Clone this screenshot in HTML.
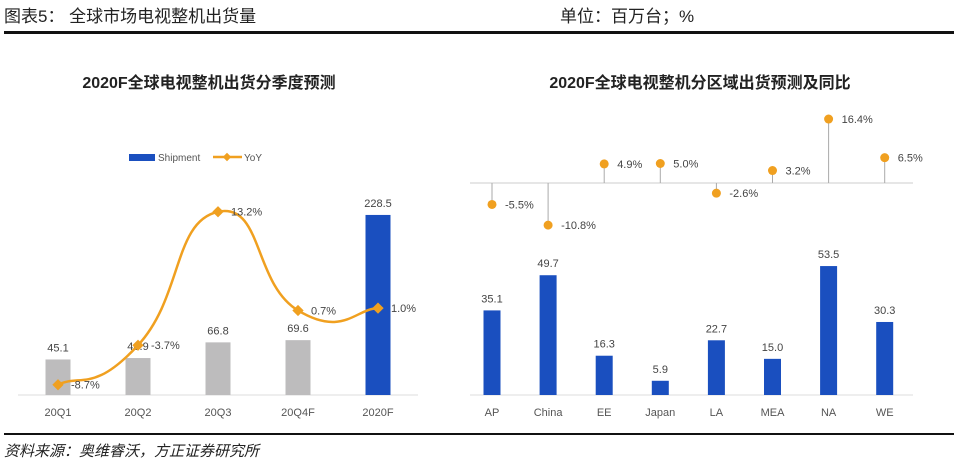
<!DOCTYPE html>
<html><head><meta charset="utf-8"><style>
body{margin:0;width:958px;height:466px;background:#fff;overflow:hidden;font-family:"Liberation Sans","Noto Sans CJK SC",sans-serif}
svg text{font-family:"Liberation Sans","Noto Sans CJK SC",sans-serif}
</style></head><body>
<svg width="958" height="466">
<text x="4" y="22" font-size="17" fill="#222" font-family="'Noto Serif CJK SC',serif">图表5：  全球市场电视整机出货量</text>
<text x="560" y="22" font-size="17" fill="#222" font-family="'Noto Serif CJK SC',serif">单位：百万台；%</text>
<rect x="4" y="31" width="950" height="3" fill="#111"/>
<rect x="4" y="433" width="950" height="2" fill="#111"/>
<text x="4" y="456" font-size="15" fill="#222" font-style="italic" font-family="'Noto Serif CJK SC',serif">资料来源：奥维睿沃，方正证券研究所</text>
<text x="209" y="88" font-size="16" font-weight="bold" text-anchor="middle" fill="#222">2020F全球电视整机出货分季度预测</text>
<text x="700" y="88" font-size="16" font-weight="bold" text-anchor="middle" fill="#222">2020F全球电视整机分区域出货预测及同比</text>
<g>
<rect x="129" y="154" width="26" height="7" fill="#1a4fbf"/>
<text x="158" y="161" font-size="10" fill="#555">Shipment</text>
<line x1="213" y1="157" x2="242" y2="157" stroke="#f0a020" stroke-width="2.5"/>
<rect x="224" y="154" width="6" height="6" fill="#f0a020" transform="rotate(45 227 157)"/>
<text x="244" y="161" font-size="10" fill="#555">YoY</text>
</g>
<g id="left"></g>
<g id="right"></g>
</svg>
<script>
const qCats=["20Q1","20Q2","20Q3","20Q4F","2020F"];
const qShip=[45.1,46.9,66.8,69.6,228.5];
const qYoY=[-8.7,-3.7,13.2,0.7,1.0];
const rCats=["AP","China","EE","Japan","LA","MEA","NA","WE"];
const rShip=[35.1,49.7,16.3,5.9,22.7,15.0,53.5,30.3];
const rYoY=[-5.5,-10.8,4.9,5.0,-2.6,3.2,16.4,6.5];
const NS="http://www.w3.org/2000/svg";
function mk(p,t,a,txt){const e=document.createElementNS(NS,t);for(const k in a)e.setAttribute(k,a[k]);if(txt!==undefined)e.textContent=txt;p.appendChild(e);return e;}
// left chart
const L=document.getElementById("left");
const lx=i=>58+i*80, ly=v=>395-v*0.788, yy=v=>316-v*7.9;
mk(L,"line",{x1:18,y1:395,x2:418,y2:395,stroke:"#ddd","stroke-width":1});
qCats.forEach((c,i)=>{
 const b=mk(L,"rect",{x:lx(i)-12.5,y:ly(qShip[i]),width:25,height:395-ly(qShip[i]),fill:i==4?"#1a4fbf":"#bdbcbd"});
 
 
 const t=mk(L,"text",{x:lx(i),y:ly(qShip[i])-8,"font-size":11,fill:"#444","text-anchor":"middle"},qShip[i].toFixed(1));
 
 
 const a=mk(L,"text",{x:lx(i),y:416,"font-size":11,fill:"#555","text-anchor":"middle"},c);
 
 
});
const pts=qYoY.map((v,i)=>[lx(i),yy(v)]);
let d="M"+pts[0][0]+","+pts[0][1];
for(let i=0;i<pts.length-1;i++){const p0=pts[Math.max(0,i-1)],p1=pts[i],p2=pts[i+1],p3=pts[Math.min(pts.length-1,i+2)];const k=0.28;
 d+=" C"+(p1[0]+(p2[0]-p0[0])*k)+","+(p1[1]+(p2[1]-p0[1])*k)+" "+(p2[0]-(p3[0]-p1[0])*k)+","+(p2[1]-(p3[1]-p1[1])*k)+" "+p2[0]+","+p2[1];}
const ln=mk(L,"path",{d:d,fill:"none",stroke:"#f0a020","stroke-width":2.5});


pts.forEach((p,i)=>{
 const m=mk(L,"rect",{x:p[0]-4,y:p[1]-4,width:8,height:8,fill:"#f0a020",transform:`rotate(45 ${p[0]} ${p[1]})`});
 
 
 const t=mk(L,"text",{x:p[0]+13,y:p[1]+4,"font-size":11,fill:"#444"},qYoY[i].toFixed(1)+"%");
 
 
});
// right chart
const R=document.getElementById("right");
const rx=i=>492+i*56.1, ry=v=>395-v*2.41, rz=v=>183-v*3.9;
mk(R,"line",{x1:470,y1:395,x2:913,y2:395,stroke:"#ddd","stroke-width":1});
mk(R,"line",{x1:470,y1:183,x2:913,y2:183,stroke:"#ccc","stroke-width":1});
rCats.forEach((c,i)=>{
 const b=mk(R,"rect",{x:rx(i)-8.5,y:ry(rShip[i]),width:17,height:395-ry(rShip[i]),fill:"#1a4fbf"});
 
 
 const t=mk(R,"text",{x:rx(i),y:ry(rShip[i])-8,"font-size":11,fill:"#444","text-anchor":"middle"},rShip[i].toFixed(1));
 
 
 const a=mk(R,"text",{x:rx(i),y:416,"font-size":11,fill:"#555","text-anchor":"middle"},c);
 
 
 const s=mk(R,"line",{x1:rx(i),y1:183,x2:rx(i),y2:rz(rYoY[i]),stroke:"#aaa","stroke-width":1});
 
 
 const dt=mk(R,"circle",{cx:rx(i),cy:rz(rYoY[i]),r:4.5,fill:"#f0a020"});
 
 
 const l=mk(R,"text",{x:rx(i)+13,y:rz(rYoY[i])+4,"font-size":11,fill:"#444"},rYoY[i].toFixed(1)+"%");
 
 
});
</script>
</body></html>
